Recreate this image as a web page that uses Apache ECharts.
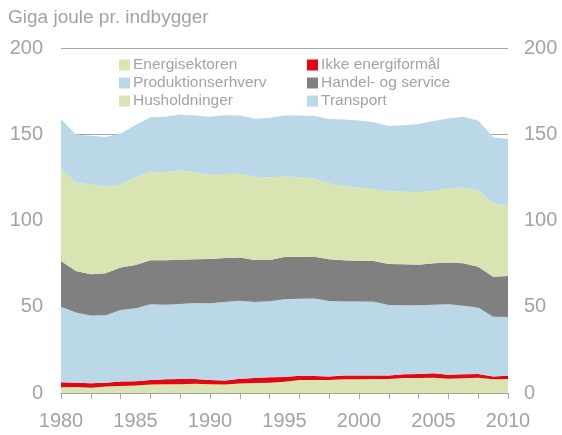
<!DOCTYPE html>
<html>
<head>
<meta charset="utf-8">
<script src="https://cdn.jsdelivr.net/npm/echarts@6/dist/echarts.min.js"></script>
<style>
html, body { margin: 0; padding: 0; background: #fff; }
#main { width: 562px; height: 435px; }
</style>
</head>
<body>
<div id="main"></div>
<script>
// years on the x axis
const years = [];
for (let y = 1980; y <= 2010; y++) years.push(String(y));

// GJ per inhabitant (stacked bottom -> top)
const energisektoren = [3.3, 3.5, 3.1, 3.7, 4.1, 4.3, 4.9, 5.1, 5.1, 5.3, 5.1, 4.9, 5.5, 5.8, 6.0, 6.5, 7.5, 7.5, 7.5, 7.9, 7.9, 8.1, 8.1, 8.7, 8.7, 8.9, 8.3, 8.5, 8.9, 7.9, 8.1];
const ikkeEnergi = [2.9, 2.5, 2.5, 2.3, 2.5, 2.5, 2.6, 2.8, 3.0, 2.8, 2.4, 2.4, 2.8, 2.9, 3.1, 2.8, 2.5, 2.4, 2.0, 2.3, 2.3, 2.1, 2.1, 2.1, 2.3, 2.5, 2.3, 2.3, 2.1, 1.6, 1.9];
const produktion = [43.8, 40.6, 39.4, 39.1, 41.5, 42.3, 43.9, 43.3, 43.5, 44.1, 44.5, 45.5, 45.2, 44.1, 44.1, 45.0, 44.7, 44.9, 43.8, 42.9, 42.9, 42.7, 40.8, 40.0, 39.8, 39.8, 40.8, 39.8, 38.5, 34.7, 34.0];
const handel = [26.5, 24.1, 23.8, 24.3, 24.6, 25.1, 25.5, 25.7, 25.7, 25.3, 25.7, 25.5, 25.0, 24.3, 23.9, 24.5, 24.3, 24.2, 24.2, 23.8, 23.4, 23.6, 23.8, 23.8, 23.6, 24.0, 24.3, 24.6, 23.7, 23.2, 23.8];
const husholdninger = [53.7, 51.2, 52.0, 50.4, 48.1, 50.8, 51.4, 51.1, 51.8, 50.4, 48.7, 48.7, 48.6, 48.3, 47.9, 46.9, 46.0, 45.4, 44.0, 43.3, 42.7, 41.6, 42.1, 42.1, 42.1, 42.1, 42.8, 44.0, 44.4, 42.6, 41.0];
const transport = [28.6, 27.9, 28.4, 28.6, 29.7, 30.4, 31.5, 32.2, 32.3, 32.9, 33.8, 34.0, 33.7, 33.6, 34.6, 35.1, 35.8, 36.2, 37.3, 38.4, 38.7, 38.9, 37.9, 38.5, 39.4, 40.4, 40.7, 41.0, 40.3, 38.2, 38.4];

const green = '#d8e4b2';
const red = '#e30613';
const blue = '#bad8e8';
const gray = '#808080';
const txt = '#a3a3a3';
const font = 'Liberation Sans, Arial, sans-serif';

function area(name, data, color) {
  return {
    name: name,
    type: 'line',
    stack: 'total',
    data: data,
    showSymbol: false,
    symbol: 'none',
    lineStyle: { width: 0 },
    areaStyle: { color: color, opacity: 1 },
    itemStyle: { color: color },
    emphasis: { disabled: true }
  };
}

const legendCommon = {
  orient: 'vertical',
  icon: 'rect',
  itemWidth: 11,
  itemHeight: 11,
  itemGap: 2,
  padding: 0,
  selectedMode: false,
  textStyle: { color: txt, fontSize: 15.5, fontFamily: font, padding: [0, 0, 0, -2] }
};

let option = {
  animation: false,
  title: {
    text: 'Giga joule pr. indbygger',
    left: 8,
    top: 8,
    padding: 0,
    textStyle: { color: txt, fontSize: 19, fontWeight: 'normal', fontFamily: font }
  },
  legend: [
    Object.assign({ left: 119, top: 57, data: ['Energisektoren', 'Produktionserhverv', 'Husholdninger'] }, legendCommon),
    Object.assign({ left: 307, top: 57, data: ['Ikke energiformål', 'Handel- og service', 'Transport'] }, legendCommon)
  ],
  grid: { left: 61, right: 54, top: 48, bottom: 42 },
  xAxis: {
    type: 'category',
    data: years,
    boundaryGap: false,
    axisLine: { lineStyle: { color: '#a6a6a6', width: 1 } },
    axisTick: { show: true, interval: 1, length: 6, lineStyle: { color: '#a6a6a6' } },
    axisLabel: { interval: 4, color: txt, fontSize: 20, fontFamily: font, margin: 18 },
    splitLine: { show: false }
  },
  yAxis: [
    {
      type: 'value',
      min: 0, max: 200, interval: 50,
      axisLine: { show: false },
      axisTick: { show: false },
      axisLabel: { color: txt, fontSize: 20, fontFamily: font, margin: 18 },
      splitLine: { lineStyle: { color: '#a6a6a6', width: 1 } }
    },
    {
      type: 'value',
      position: 'right',
      min: 0, max: 200, interval: 50,
      axisLine: { show: false },
      axisTick: { show: false },
      axisLabel: { color: txt, fontSize: 20, fontFamily: font, margin: 16 },
      splitLine: { show: false }
    }
  ],
  series: [
    area('Energisektoren', energisektoren, green),
    area('Ikke energiformål', ikkeEnergi, red),
    area('Produktionserhverv', produktion, blue),
    area('Handel- og service', handel, gray),
    area('Husholdninger', husholdninger, green),
    area('Transport', transport, blue)
  ]
};

let myChart = echarts.init(document.getElementById('main'));
option && myChart.setOption(option);
</script>
</body>
</html>
